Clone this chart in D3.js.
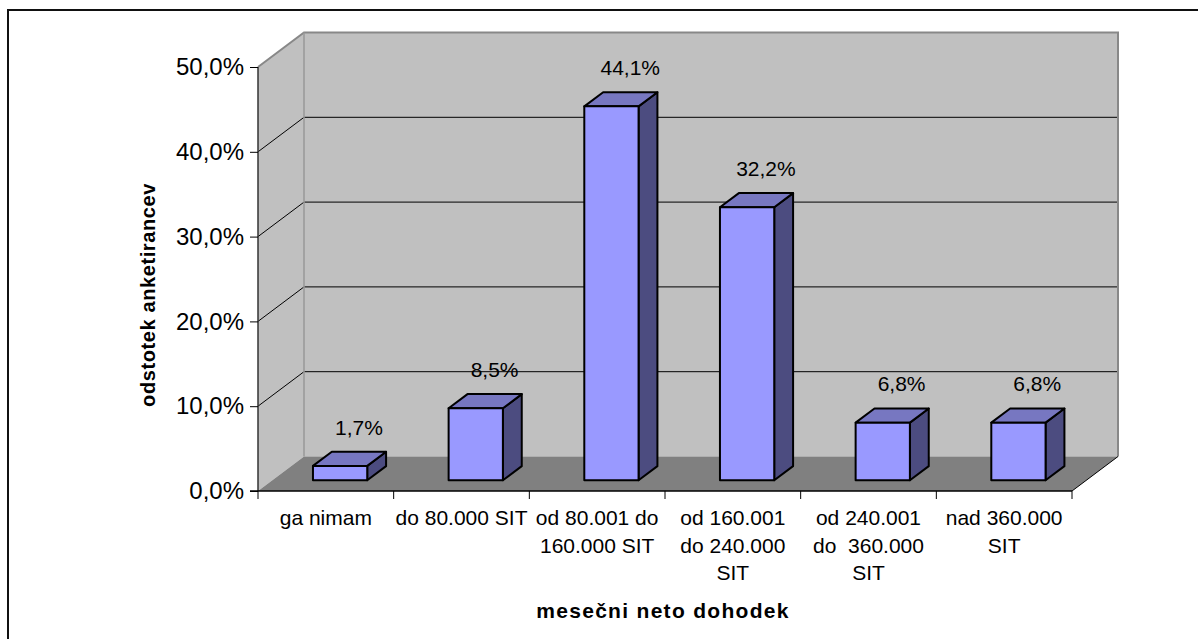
<!DOCTYPE html>
<html>
<head>
<meta charset="utf-8">
<script src="https://cdn.jsdelivr.net/npm/d3@7"></script>
<style>
  html, body { margin: 0; padding: 0; background: #fff; }
  svg { display: block; font-family: "Liberation Sans", Arial, sans-serif; }
  text { white-space: pre; }
</style>
</head>
<body>
<svg id="chart" width="1198" height="639"></svg>
<script>
// Income categories (each entry is a list of label lines)
const categories = [
  ["ga nimam"],
  ["do 80.000 SIT"],
  ["od 80.001 do", "160.000 SIT"],
  ["od 160.001", "do 240.000", "SIT"],
  ["od 240.001", "do  360.000", "SIT"],
  ["nad 360.000", "SIT"]
];
// Share of respondents, percent
const values = [1.7, 8.5, 44.1, 32.2, 6.8, 6.8];
const valueLabels = ["1,7%", "8,5%", "44,1%", "32,2%", "6,8%", "6,8%"];
const yTicks = [0, 10, 20, 30, 40, 50];
const yTickLabels = ["0,0%", "10,0%", "20,0%", "30,0%", "40,0%", "50,0%"];
const xTitle = "mesečni neto dohodek";
const yTitle = "odstotek anketirancev";

const svg = d3.select("#chart");

// outer chart-area frame
svg.append("rect")
  .attr("x", 8).attr("y", 10).attr("width", 1400).attr("height", 800)
  .attr("fill", "#fff").attr("stroke", "#111").attr("stroke-width", 2);

const catKeys = categories.map((c, i) => "c" + i);
const x = d3.scaleBand().domain(catKeys).range([258, 1072]);
const y = d3.scaleLinear().domain([0, 50]).range([491, 67]);

// oblique depth offset of the 3D box
const DX = 46, DY = 34.5;
const P = (px, v, z) => [px + z * DX, y(v) - z * DY];
const poly = pts => "M" + pts.map(p => p.join(",")).join("L") + "Z";

const x0 = x.range()[0], x1 = x.range()[1];
const vMax = y.domain()[1];

// left side wall
svg.append("path")
  .attr("d", poly([P(x0, 0, 0), P(x0, vMax, 0), P(x0, vMax, 1), P(x0, 0, 1)]))
  .attr("fill", "#c0c0c0");
// back wall
svg.append("path")
  .attr("d", poly([P(x0, 0, 1), P(x0, vMax, 1), P(x1, vMax, 1), P(x1, 0, 1)]))
  .attr("fill", "#c0c0c0");
// floor
svg.append("path")
  .attr("d", poly([P(x0, 0, 0), P(x1, 0, 0), P(x1, 0, 1), P(x0, 0, 1)]))
  .attr("fill", "#808080");

// gridlines: diagonal on the side wall, horizontal on the back wall
yTicks.filter(t => t > 0 && t < vMax).forEach(t => {
  svg.append("path")
    .attr("d", "M" + [P(x0, t, 0), P(x0, t, 1), P(x1, t, 1)].map(p => p.join(",")).join("L"))
    .attr("fill", "none").attr("stroke", "#000").attr("stroke-width", 1);
});

// wall edges
svg.append("path")
  .attr("d", "M" + [P(x0, vMax, 0), P(x0, vMax, 1), P(x1, vMax, 1), P(x1, 0, 1)].map(p => p.join(",")).join("L"))
  .attr("fill", "none").attr("stroke", "#888").attr("stroke-width", 2);
svg.append("path")
  .attr("d", "M" + [P(x0, 0, 1), P(x0, vMax, 1)].map(p => p.join(",")).join("L"))
  .attr("fill", "none").attr("stroke", "#999").attr("stroke-width", 1.5);
// floor right edge
svg.append("path")
  .attr("d", "M" + [P(x1, 0, 0), P(x1, 0, 1)].map(p => p.join(",")).join("L"))
  .attr("fill", "none").attr("stroke", "#000").attr("stroke-width", 1);

// bars
const Z0 = 0.31, Z1 = 0.72;
const bars = svg.append("g");
values.forEach((v, i) => {
  const c = x(catKeys[i]) + x.bandwidth() / 2;
  const bw = x.bandwidth() * 0.4;
  const a = c - bw / 2, b = c + bw / 2;
  const g = bars.append("g").attr("stroke", "#000").attr("stroke-width", 2).attr("stroke-linejoin", "round");
  g.append("path").attr("d", poly([P(b, 0, Z0), P(b, 0, Z1), P(b, v, Z1), P(b, v, Z0)])).attr("fill", "#4c4c80");
  g.append("path").attr("d", poly([P(a, v, Z0), P(b, v, Z0), P(b, v, Z1), P(a, v, Z1)])).attr("fill", "#7777c1");
  g.append("path").attr("d", poly([P(a, 0, Z0), P(b, 0, Z0), P(b, v, Z0), P(a, v, Z0)])).attr("fill", "#9999ff");
  const lp = P(c, v, Z1);
  svg.append("text")
    .attr("x", lp[0]).attr("y", lp[1] - 17)
    .attr("text-anchor", "middle").attr("font-size", 21).attr("fill", "#000")
    .text(valueLabels[i]);
});

// value axis
const yAxis = svg.append("g").attr("transform", `translate(${x0},0)`)
  .call(d3.axisLeft(y).tickValues(yTicks).tickSize(8).tickPadding(6)
    .tickFormat((d, i) => yTickLabels[i]));
yAxis.select(".domain").attr("stroke", "#333").attr("stroke-width", 1.5)
  .attr("d", `M0,${y(0)}V${y(vMax)}`);
yAxis.selectAll(".tick line").attr("stroke", "#000").attr("stroke-width", 1);
yAxis.selectAll(".tick text").attr("font-size", 24).attr("fill", "#000")
  .attr("font-family", "Liberation Sans, Arial, sans-serif");

// category axis
svg.append("line")
  .attr("x1", x0 - 8).attr("x2", x1).attr("y1", y(0)).attr("y2", y(0))
  .attr("stroke", "#000").attr("stroke-width", 1.5);
const boundaries = catKeys.map(k => x(k)).concat([x1]);
boundaries.forEach(bx => {
  svg.append("line")
    .attr("x1", bx).attr("x2", bx).attr("y1", y(0)).attr("y2", y(0) + 8)
    .attr("stroke", "#000").attr("stroke-width", 1);
});
categories.forEach((lines, i) => {
  const c = x(catKeys[i]) + x.bandwidth() / 2;
  const t = svg.append("text").attr("text-anchor", "middle").attr("font-size", 21).attr("fill", "#000");
  lines.forEach((ln, j) => {
    t.append("tspan").attr("x", c).attr("y", 525 + j * 27.5).text(ln);
  });
});

// axis titles
svg.append("text")
  .attr("x", (x0 + x1) / 2 - 2).attr("y", 618)
  .attr("text-anchor", "middle").attr("font-size", 21).attr("font-weight", "bold")
  .attr("letter-spacing", 1.3).attr("fill", "#000")
  .text(xTitle);
svg.append("text")
  .attr("transform", `translate(155,${(y(0) + y(vMax)) / 2 + 16}) rotate(-90)`)
  .attr("text-anchor", "middle").attr("font-size", 20).attr("font-weight", "bold")
  .attr("letter-spacing", 0.6).attr("fill", "#000")
  .text(yTitle);
</script>
</body>
</html>
